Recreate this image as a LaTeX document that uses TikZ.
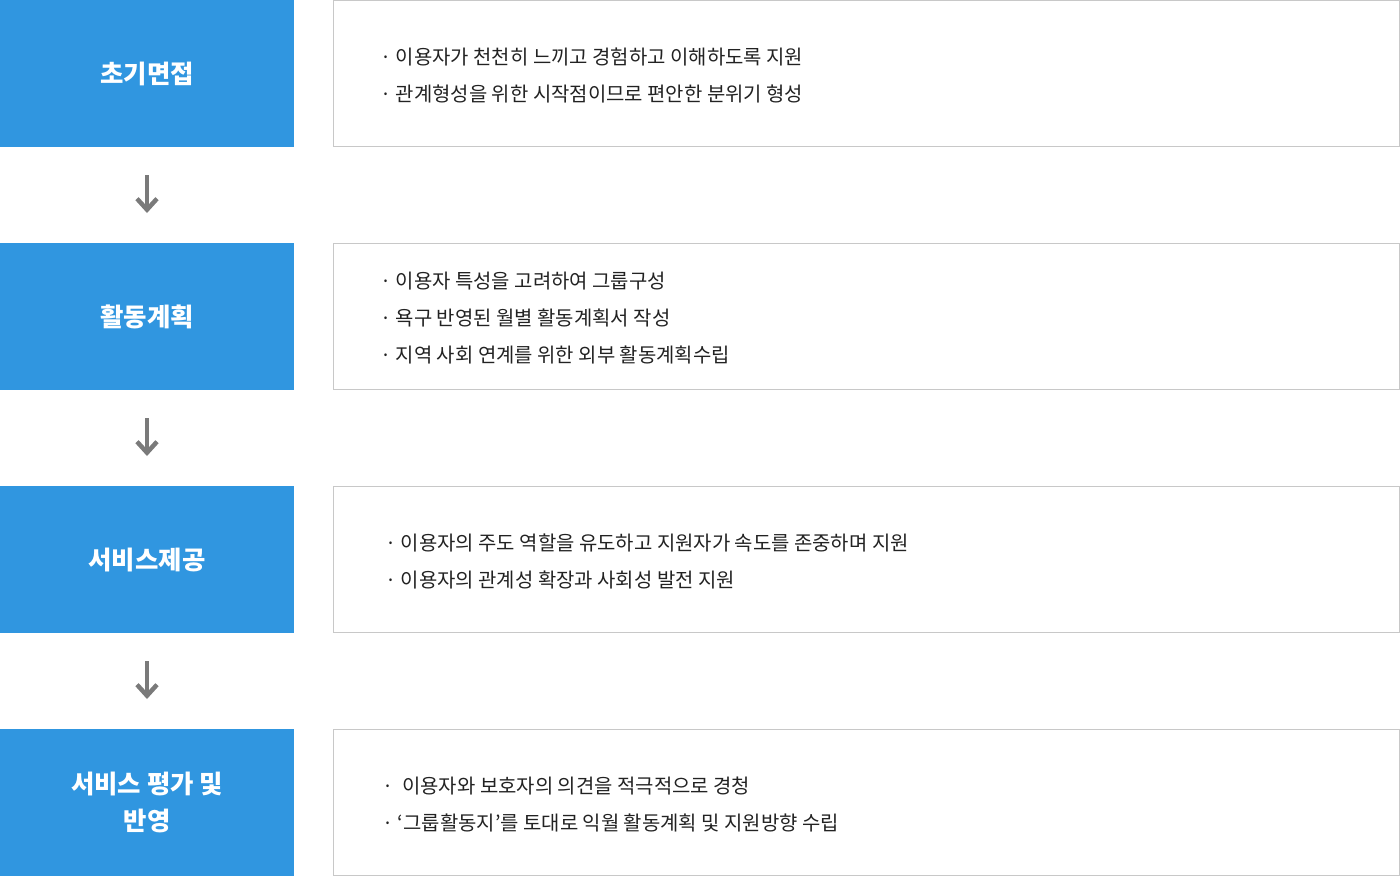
\documentclass[tikz,border=0pt]{standalone}
\usepackage{fontspec}
\setmainfont{Noto Sans CJK KR}
\usetikzlibrary{positioning}
\usetikzlibrary{arrows.meta}
\definecolor{stageblue}{HTML}{3096E0}
\definecolor{boxgray}{HTML}{C8C8C8}
\definecolor{arrowgray}{HTML}{7A7A7A}
\definecolor{itemgray}{HTML}{222222}

\begin{document}
\begin{tikzpicture}[x=1bp, y=-1bp,
    stage/.style={fill=stageblue, text=white, font=\fontsize{25.5}{37}\selectfont\bfseries,
      minimum width=294bp, minimum height=147bp, inner sep=0, outer sep=0, align=center},
    detail/.style={draw=boxgray, line width=1bp, minimum width=1066bp, minimum height=146bp,
      inner sep=0, outer sep=0},
    item/.style={anchor=west, inner sep=0, text=itemgray, font=\fontsize{20}{20}\selectfont},
    flow/.style={draw=arrowgray, line width=4.5bp, -{Straight Barb[length=11bp, width=20bp]},
      shorten <=28bp, shorten >=30bp}]
    \useasboundingbox (0, 0) rectangle (1400, 876);

    \node[stage, anchor=north west] (intake) at (0, 0) {초기면접};
    \node[stage, below=96bp of intake] (plan) {활동계획};
    \node[stage, below=96bp of plan] (service) {서비스제공};
    \node[stage, below=96bp of service] (review) {서비스 평가 및\\반영};

    \node[detail, right=39.5bp of intake] (intakeinfo) {};
    \node[detail, right=39.5bp of plan] (planinfo) {};
    \node[detail, right=39.5bp of service] (serviceinfo) {};
    \node[detail, right=39.5bp of review] (reviewinfo) {};

    \draw[flow] (intake) -- (plan);
    \draw[flow] (plan) -- (service);
    \draw[flow] (service) -- (review);

    % intake
    \node[item] (intake1) at (380, 57) {· 이용자가 천천히 느끼고 경험하고 이해하도록 지원};
    \node[item] (intake2) at (380, 94) {· 관계형성을 위한 시작점이므로 편안한 분위기 형성};

    % plan
    \node[item] (plan1) at (380, 281) {· 이용자 특성을 고려하여 그룹구성};
    \node[item] (plan2) at (380, 318) {· 욕구 반영된 월별 활동계획서 작성};
    \node[item] (plan3) at (380, 355) {· 지역 사회 연계를 위한 외부 활동계획수립};

    % service
    \node[item] (service1) at (385, 543) {· 이용자의 주도 역할을 유도하고 지원자가 속도를 존중하며 지원};
    \node[item] (service2) at (385, 580) {· 이용자의 관계성 확장과 사회성 발전 지원};

    % review
    \node[item] (review1) at (382, 786) {·\ \ 이용자와 보호자의 의견을 적극적으로 경청};
    \node[item] (review2) at (382, 823) {· ‘그룹활동지’를 토대로 익월 활동계획 및 지원방향 수립};
\end{tikzpicture}
\end{document}
